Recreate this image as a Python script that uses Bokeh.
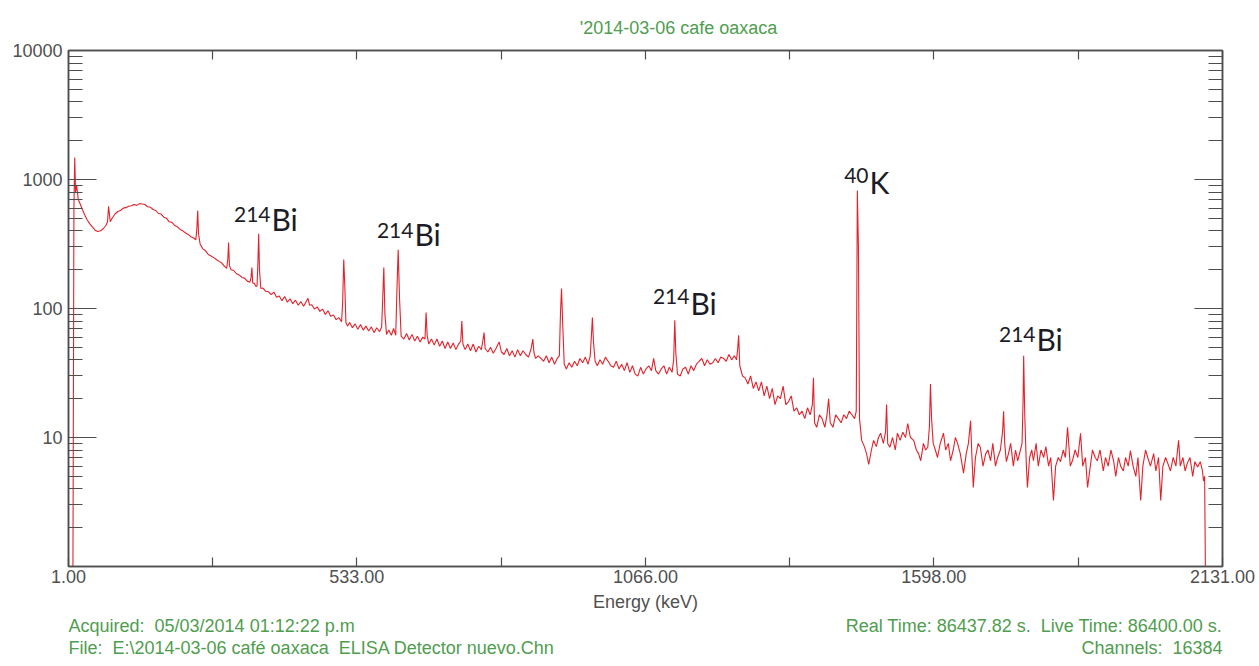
from bokeh.plotting import figure
from bokeh.layouts import column
from bokeh.models import (Range1d, FixedTicker, LinearAxis, LogAxis, Label,
                          CustomJSTickFormatter, PrintfTickFormatter)
from bokeh.embed import file_html
from bokeh.resources import INLINE

# ---------------- data ----------------
energy_kev = [
    9, 11, 12.5, 14, 16, 19, 23, 27, 31, 35,
    40, 45, 50, 55, 60, 65, 70, 73, 75, 78,
    82, 87, 92, 97, 102, 107, 112, 117, 122, 127,
    132, 137, 142, 147, 152, 157, 162, 167, 172, 177,
    182, 187, 192, 197, 202, 207, 212, 217, 222, 227,
    232, 236, 238, 239.5, 241, 244, 249, 254, 259, 264,
    269, 274, 279, 284, 289, 293, 295, 296.5, 298, 301,
    306, 311, 316, 321, 326, 331, 336, 338, 339.5, 341,
    344, 347, 349, 350.5, 352, 353.5, 356, 360, 365, 370,
    375, 380, 385, 390, 395, 400, 405, 410, 415, 420,
    425, 430, 435, 440, 443, 446, 450, 455, 460, 465,
    470, 475, 480, 485, 490, 495, 500, 505, 507, 509,
    511, 513, 516, 520, 525, 530, 535, 540, 545, 550,
    555, 560, 565, 570, 575, 579, 581, 583, 585, 588,
    592, 597, 601, 605, 607, 609.5, 612, 615, 620, 625,
    630, 635, 640, 645, 650, 655, 659, 661, 663, 666,
    671, 676, 681, 686, 691, 696, 701, 706, 711, 716,
    721, 725, 727, 729, 733, 738, 743, 748, 753, 758,
    763, 766, 768, 770, 775, 780, 785, 790, 794, 796,
    800, 805, 810, 815, 820, 825, 830, 835, 840, 845,
    850, 855, 858, 860, 863, 868, 873, 878, 883, 888,
    893, 898, 903, 907, 909, 911, 913, 916, 920, 925,
    930, 935, 940, 945, 950, 955, 960, 964, 966, 968,
    970, 973, 977, 982, 987, 992, 997, 1002, 1007, 1012,
    1017, 1022, 1027, 1032, 1037, 1042, 1047, 1052, 1057, 1062,
    1067, 1072, 1077, 1081, 1085, 1090, 1095, 1100, 1105, 1110,
    1115, 1118, 1120, 1122, 1125, 1130, 1135, 1140, 1145, 1150,
    1155, 1160, 1165, 1170, 1175, 1180, 1185, 1190, 1195, 1200,
    1205, 1210, 1215, 1220, 1225, 1230, 1234, 1236, 1238, 1240,
    1245, 1250, 1255, 1260, 1265, 1270, 1275, 1280, 1285, 1290,
    1295, 1300, 1305, 1310, 1315, 1320, 1325, 1330, 1335, 1340,
    1345, 1350, 1355, 1360, 1365, 1370, 1374, 1376, 1378, 1382,
    1387, 1392, 1397, 1401, 1404, 1407, 1412, 1417, 1422, 1427,
    1432, 1437, 1442, 1447, 1452, 1455, 1457, 1459, 1461, 1465,
    1470, 1474, 1478, 1483, 1487, 1492, 1496, 1500, 1505, 1509,
    1511, 1513, 1517, 1522, 1527, 1531, 1536, 1541, 1546, 1550,
    1555, 1561, 1566, 1570, 1574, 1579, 1583, 1587, 1590, 1592,
    1594, 1597, 1601, 1605, 1610, 1616, 1620, 1625, 1629, 1634,
    1638, 1642, 1647, 1653, 1658, 1662, 1666, 1668, 1671, 1675,
    1680, 1684, 1689, 1694, 1698, 1703, 1707, 1712, 1716, 1721,
    1725, 1727, 1729, 1732, 1736, 1740, 1745, 1749, 1753, 1758,
    1761, 1763, 1764, 1766, 1769, 1771, 1775, 1779, 1782, 1787,
    1791, 1796, 1801, 1805, 1810, 1814, 1819, 1823, 1828, 1832,
    1837, 1841, 1845, 1848, 1850, 1854, 1859, 1864, 1869, 1873,
    1878, 1882, 1887, 1891, 1896, 1900, 1905, 1911, 1915, 1920,
    1925, 1930, 1934, 1939, 1943, 1948, 1952, 1957, 1961, 1966,
    1971, 1975, 1980, 1984, 1989, 1993, 1998, 2004, 2008, 2013,
    2017, 2021, 2026, 2030, 2035, 2040, 2045, 2048, 2050, 2053,
    2058, 2062, 2066, 2071, 2076, 2080, 2085, 2090, 2094, 2096,
    2098, 2100,
]

counts = [
    0.5, 600, 1480, 800, 900, 700, 640, 580, 530, 490,
    455, 430, 405, 395, 400, 415, 440, 470, 620, 470,
    505, 540, 565, 575, 600, 605, 620, 625, 640, 630,
    650, 645, 640, 615, 610, 585, 575, 545, 540, 510,
    500, 470, 465, 440, 430, 410, 400, 385, 375, 360,
    352, 340, 420, 575, 380, 315, 290, 280, 262, 255,
    248, 240, 232, 225, 212, 205, 240, 325, 215, 200,
    197, 186, 182, 174, 172, 163, 160, 175, 208, 158,
    156, 148, 150, 220, 380, 200, 143, 144, 136, 135,
    128, 134, 122, 125, 115, 124, 112, 119, 109, 116,
    106, 113, 104, 114, 120, 106, 107, 99, 103, 95,
    99, 90, 96, 87, 89, 82, 85, 79, 110, 240,
    150, 78, 73, 78, 71, 76, 69, 75, 68, 73,
    67, 72, 65, 71, 66, 72, 120, 208, 90, 63,
    68, 62, 70, 62, 130, 285, 120, 61, 58, 64,
    57, 63, 56, 61, 55, 60, 58, 93, 62, 53,
    58, 52, 58, 51, 56, 49, 55, 49, 54, 48,
    53, 56, 80, 53, 48, 53, 47, 53, 46, 51,
    48, 57, 65, 49, 46, 50, 45, 49, 53, 55,
    46, 44, 49, 43, 47, 42, 48, 43, 47, 44,
    42, 49, 58, 46, 41, 43, 41, 39, 43, 38,
    42, 37, 41, 43, 90, 143, 80, 37, 34, 38,
    35, 39, 36, 41, 38, 42, 37, 43, 60, 85,
    55, 39, 36, 40, 37, 42, 39, 36, 35, 39,
    34, 37, 33, 38, 32, 36, 31, 30, 35, 31,
    34, 36, 33, 41, 33, 31, 34, 36, 31, 35,
    32, 40, 81, 45, 31, 30, 34, 35, 31, 36,
    33, 37, 39, 41, 36, 40, 37, 38, 41, 38,
    42, 41, 39, 44, 40, 43, 40, 48, 62, 36,
    30, 29, 26, 30, 24, 27, 23, 27, 21, 25,
    20, 24, 18, 21, 20, 25, 18, 19, 21, 16,
    17, 15, 16, 14, 17, 15, 18, 29, 13, 12,
    15, 14, 12, 15, 20, 13, 12, 15, 14, 13,
    15, 14, 16, 15, 14, 16, 822, 300, 14, 9.5,
    8.5, 7.5, 6.2, 8, 9.5, 8.5, 10, 10.8, 9, 11,
    18, 9, 8.4, 10, 8, 10.8, 9.5, 11, 10, 12.8,
    10, 9.5, 8, 7.5, 6.6, 9, 8, 8.4, 12, 26,
    14, 9, 8, 7, 9, 10.8, 8, 9, 6.6, 8,
    10, 9, 7.5, 5.3, 7.5, 9, 13.5, 8, 4.1, 7,
    9, 8.4, 6, 7.5, 8, 6.6, 9, 6, 7, 8,
    11, 16, 9, 6.5, 7.5, 9, 6, 8, 6.6, 8,
    9, 20, 43, 15, 6, 4.1, 7, 8, 6.6, 9,
    6, 8, 7, 8.5, 6, 7, 3.25, 6, 7, 6.5,
    8, 7, 12, 8, 6, 6.6, 8, 7, 10.8, 6,
    7, 4.1, 6, 8, 7, 6.6, 8, 5.5, 7, 6,
    8, 6.6, 5, 7, 6, 5.5, 7, 6, 7.9, 6,
    5, 7, 3.25, 6, 8, 7, 6, 7.5, 5.5, 7,
    3.25, 6, 7, 6.3, 5.5, 7, 6, 8, 9.5, 6,
    7, 5.5, 6.3, 7, 5, 6.5, 5.9, 6.5, 5.5, 4.6,
    5, 0.5,
]

x_major_ticks = [1, 533, 1066, 1598, 2131]
x_minor_ticks = [267, 799.5, 1332, 1864.5]
y_major_ticks = [1, 10, 100, 1000, 10000]
y_minor_ticks = [m * 10 ** d for d in range(4) for m in range(2, 10)]

# peak annotations: mass number (superscript), element, anchor energy, text centre counts
peak_mass = ["214", "214", "214", "40", "214"]
peak_element = ["Bi", "Bi", "Bi", "K", "Bi"]
peak_label_x = [375.7, 639.6, 1149.0, 1479.5, 1787.7]
peak_label_y = [490, 375, 111, 948, 58.5]
peak_sup_y = [531, 402, 124, 1074, 62.9]

NB = "\u00a0"
title_text = "'2014-03-06 cafe oaxaca"
x_label = "Energy (keV)"
info_left = ["Acquired:" + NB + " 05/03/2014 01:12:22 p.m",
             "File:" + NB + " E:\\2014-03-06 café oaxaca" + NB + " ELISA Detector nuevo.Chn"]
info_right = ["Real Time: 86437.82 s." + NB + " Live Time: 86400.00 s.",
              "Channels:" + NB + " 16384"]

# ---------------- styles ----------------
AX = "#4d4d4d"
GREEN = "#4f9d4f"
FONT = "Liberation Sans"
W = 1259
BL, BR = 68, 37          # left / right borders shared by all rows
FX0, FX1 = BL, W - BR    # frame pixel extent (68 .. 1222)


def text_strip(h):
    f = figure(width=W, height=h, x_range=Range1d(FX0, FX1), y_range=Range1d(0, h),
               output_backend="svg", toolbar_location=None, title=None,
               x_axis_location=None, y_axis_location=None,
               min_border_left=BL, min_border_right=BR, min_border_top=0,
               min_border_bottom=0)
    f.outline_line_color = None
    f.xgrid.visible = False
    f.ygrid.visible = False
    f.background_fill_color = "white"
    f.border_fill_color = "white"
    return f


# header strip with the title
p_top = text_strip(40)
p_top.add_layout(Label(x=678, y=13, text=title_text, text_align="center",
                       text_baseline="middle", text_font=FONT,
                       text_font_size="18px", text_color=GREEN))

# main spectrum plot
p = figure(width=W, height=577, title=None,
           x_range=Range1d(1, 2131), y_range=Range1d(1, 10000),
           y_axis_type="log", output_backend="svg", toolbar_location=None,
           min_border_left=BL, min_border_right=BR, min_border_top=10,
           min_border_bottom=51)
p.background_fill_color = "white"
p.border_fill_color = "white"
p.outline_line_color = AX
p.outline_line_width = 1.5
p.xgrid.visible = False
p.ygrid.visible = False


def style_axis(ax, major_in, minor_in):
    ax.axis_line_color = AX
    ax.axis_line_width = 1.5
    ax.major_tick_in = major_in
    ax.major_tick_out = 0
    ax.minor_tick_in = minor_in
    ax.minor_tick_out = 0
    ax.major_tick_line_color = AX
    ax.minor_tick_line_color = AX
    ax.major_tick_line_width = 1.2
    ax.minor_tick_line_width = 1.2
    ax.major_label_text_font = FONT
    ax.major_label_text_font_size = "18px"
    ax.major_label_text_color = "#505050"


xb = p.xaxis[0]
xb.ticker = FixedTicker(ticks=x_major_ticks, minor_ticks=x_minor_ticks)
xb.formatter = PrintfTickFormatter(format="%.2f")
style_axis(xb, 9, 9)
xb.major_label_standoff = 3
xb.axis_label = x_label
xb.axis_label_text_font = FONT
xb.axis_label_text_font_size = "18px"
xb.axis_label_text_font_style = "normal"
xb.axis_label_text_color = "#505050"
xb.axis_label_standoff = 6

yl = p.yaxis[0]
yl.ticker = FixedTicker(ticks=y_major_ticks, minor_ticks=y_minor_ticks)
yl.formatter = CustomJSTickFormatter(code="return tick < 5 ? '' : Math.round(tick).toString();")
style_axis(yl, 28, 14)
yl.major_label_standoff = 6

xt = LinearAxis(ticker=FixedTicker(ticks=x_major_ticks, minor_ticks=x_minor_ticks),
                formatter=CustomJSTickFormatter(code="return '';"))
style_axis(xt, 9, 9)
xt.major_label_standoff = 0
p.add_layout(xt, "above")

yr = LogAxis(ticker=FixedTicker(ticks=y_major_ticks, minor_ticks=y_minor_ticks),
             formatter=CustomJSTickFormatter(code="return '';"))
style_axis(yr, 28, 14)
yr.major_label_standoff = 0
p.add_layout(yr, "right")

# spectrum
p.line(energy_kev, counts, line_color="#e3222b", line_width=1.1)

# peak labels
for mass, elem, lx, ly, sy in zip(peak_mass, peak_element, peak_label_x, peak_label_y, peak_sup_y):
    p.add_layout(Label(x=lx, y=ly, text=elem, text_align="left", text_baseline="middle",
                       text_font="Lato", text_font_size="30px", text_color="#1c1c26"))
    p.add_layout(Label(x=lx, y=sy, text=mass, text_align="right", text_baseline="middle",
                       text_font="Lato", text_font_size="21px", text_color="#1c1c26",
                       x_offset=-1))

# footer strip with acquisition info
p_info = text_strip(49)
for i, t in enumerate(info_left):
    p_info.add_layout(Label(x=FX0, y=41 - 22 * i, text=t, text_align="left",
                            text_baseline="middle", text_font=FONT,
                            text_font_size="18px", text_color=GREEN))
for i, t in enumerate(info_right):
    p_info.add_layout(Label(x=FX1, y=41 - 22 * i, text=t, text_align="right",
                            text_baseline="middle", text_font=FONT,
                            text_font_size="18px", text_color=GREEN))

layout = column(p_top, p, p_info, spacing=0)
open("out.html", "w").write(file_html(layout, INLINE))
